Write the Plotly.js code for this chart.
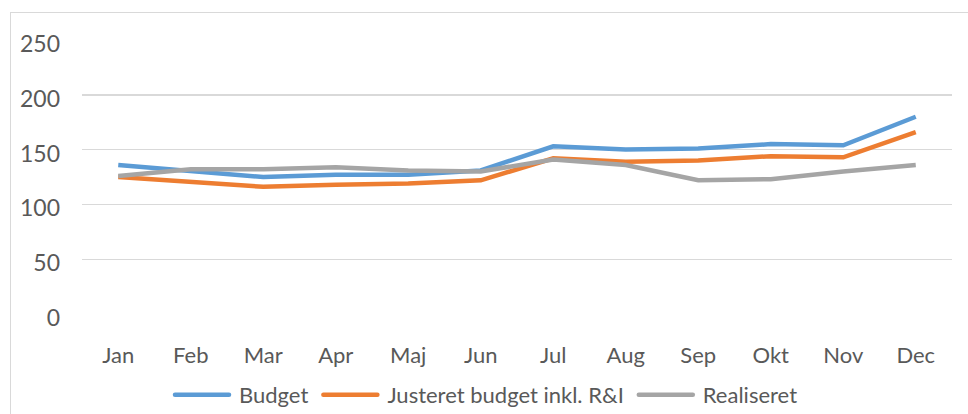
<!DOCTYPE html>
<html>
<head>
<meta charset="utf-8">
<script src="https://cdn.plot.ly/plotly-3.0.1.min.js"></script>
<style>
  html, body { margin: 0; padding: 0; background: #fff; overflow: hidden; }
  #frame { position: absolute; left: 10px; top: 12px; width: 1000px; height: 450px; border: 1.5px solid #d9d9d9; box-sizing: border-box; }
  #chart { position: absolute; left: 0; top: 0; width: 968px; height: 414px; }
</style>
</head>
<body>
<div id="frame"></div>
<div id="chart"></div>
<script>
const months = ["Jan", "Feb", "Mar", "Apr", "Maj", "Jun", "Jul", "Aug", "Sep", "Okt", "Nov", "Dec"];
const budget = [136, 130, 125, 127, 127, 131, 153, 150, 151, 155, 154, 180];
const justeret = [125, 121, 116, 118, 119, 122, 142, 139, 140, 144, 143, 166];
const realiseret = [126, 132, 132, 134, 131, 130, 141, 136, 122, 123, 130, 136];
const seriesNames = ["Budget", "Justeret budget inkl. R&I", "Realiseret"];
const yTicks = [0, 50, 100, 150, 200, 250];

const colors = ["#5B9BD5", "#ED7D31", "#A5A5A5"];
const data = [budget, justeret, realiseret].map((vals, i) => ({
  type: "scatter",
  mode: "lines",
  x: months,
  y: vals,
  name: seriesNames[i],
  line: { color: colors[i], width: 4.5 },
  hoverinfo: "x+y+name"
}));

const fam = "Lato, 'Open Sans', sans-serif";
const tickFontY = { family: fam, size: 23, color: "#595959" };
const tickFontX = { family: fam, size: 22, color: "#595959" };
const legendFont = { family: fam, size: 22, color: "#595959" };
const layout = {
  width: 968,
  height: 414,
  margin: { l: 82, r: 16, t: 40, b: 99.5 },
  paper_bgcolor: "rgba(0,0,0,0)",
  plot_bgcolor: "rgba(0,0,0,0)",
  font: legendFont,
  showlegend: true,
  legend: {
    orientation: "h",
    xref: "container", yref: "container",
    x: 0.5, xanchor: "center",
    y: 0.046, yanchor: "middle",
    font: legendFont,
    itemwidth: 64,
    tracegroupgap: 0
  },
  xaxis: {
    type: "category",
    range: [-0.5, 11.5],
    showgrid: false,
    zeroline: false,
    showline: false,
    ticks: "",
    ticklabelstandoff: 26,
    tickfont: tickFontX,
    fixedrange: true
  },
  yaxis: {
    range: [0, 250],
    tickvals: yTicks,
    ticktext: yTicks.map(String),
    showgrid: true,
    gridcolor: "#d9d9d9",
    gridwidth: 1.4,
    zeroline: false,
    showline: false,
    ticks: "",
    ticklabelstandoff: 21,
    ticklabelshift: 4,
    tickfont: tickFontY,
    fixedrange: true
  }
};

Plotly.newPlot("chart", data, layout, { displayModeBar: false, staticPlot: true }).then(gd => {
  // lengthen legend line samples to match the reference style
  gd.querySelectorAll(".legend .legendlines path").forEach(p => {
    p.setAttribute("d", "M10,0h54");
    p.style.strokeLinecap = "round";
  });
});
</script>
</body>
</html>
